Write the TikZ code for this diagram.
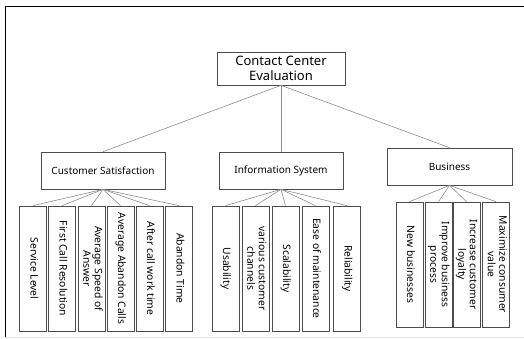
\documentclass[tikz,border=0pt]{standalone}
\usepackage{fontspec}
\setmainfont{Noto Sans}
\newcommand{\vtext}[1]{\rotatebox{-90}{\begin{tabular}{@{}c@{}}#1\end{tabular}}}
\begin{document}
\begin{tikzpicture}[x=1pt,y=-1pt,
  box/.style={draw=black!70, line width=0.7pt, inner sep=0pt, align=center, font=\fontsize{10}{12}\selectfont},
  topbox/.style={box, font=\fontsize{13}{15.5}\selectfont},
  leaf/.style={box, minimum width=27pt, minimum height=125pt, font=\fontsize{10.3}{11.5}\selectfont},
  link/.style={draw=black!45, line width=0.6pt}]
\useasboundingbox (0,0) rectangle (524,339);
\draw[line width=0.9pt] (5,338) -- (5,6) -- (524,6);
\draw[black!10, line width=0.6pt] (5,337.5) -- (524,337.5);
% root
\node[topbox, minimum width=128pt, minimum height=33pt] (root) at (281,68.5) {Contact Center\\Evaluation};
% level 2
\node[box, minimum width=124pt, minimum height=37pt] (cs) at (103,170.5) {Customer Satisfaction};
\node[box, minimum width=124pt, minimum height=37pt] (is) at (281,170.5) {Information System};
\node[box, minimum width=125pt, minimum height=37pt] (bu) at (449.5,166.5) {Business};
\draw[link] (root.south) -- (cs.north);
\draw[link] (root.south) -- (is.north);
\draw[link] (root.south) -- (bu.north);
% customer satisfaction leaves
\node[leaf] (cs1) at (33,268.5) {\vtext{Service Level}};
\node[leaf] (cs2) at (62,268.5) {\vtext{First Call Resolution}};
\node[leaf] (cs3) at (91.5,268.5) {\vtext{Average Speed of\\Answer}};
\node[leaf] (cs4) at (120.5,268.5) {\vtext{Average Abandon Calls}};
\node[leaf] (cs5) at (149.5,268.5) {\vtext{After call work time}};
\node[leaf] (cs6) at (179,268.5) {\vtext{Abandon Time}};
\foreach \n in {cs1,cs2,cs3,cs4,cs5,cs6} \draw[link] (cs.south) -- (\n.north);
% information system leaves
\node[leaf] (is1) at (225.5,268.5) {\vtext{Usability}};
\node[leaf] (is2) at (255.5,268.5) {\vtext{various customer\\channels}};
\node[leaf] (is3) at (285.5,268.5) {\vtext{Scalability}};
\node[leaf] (is4) at (315.5,268.5) {\vtext{Ease of maintenance}};
\node[leaf] (is5) at (347,268.5) {\vtext{Reliability}};
\foreach \n in {is1,is2,is3,is4,is5} \draw[link] (is.south) -- (\n.north);
% business leaves
\node[leaf] (bu1) at (409.5,264.5) {\vtext{New businesses}};
\node[leaf] (bu2) at (438.5,264.5) {\vtext{Improve business\\process}};
\node[leaf] (bu3) at (466.5,264.5) {\vtext{Increase customer\\loyalty}};
\node[leaf] (bu4) at (496,264.5) {\vtext{Maximize consumer\\value}};
\foreach \n in {bu1,bu2,bu3,bu4} \draw[link] (bu.south) -- (\n.north);
\end{tikzpicture}
\end{document}
